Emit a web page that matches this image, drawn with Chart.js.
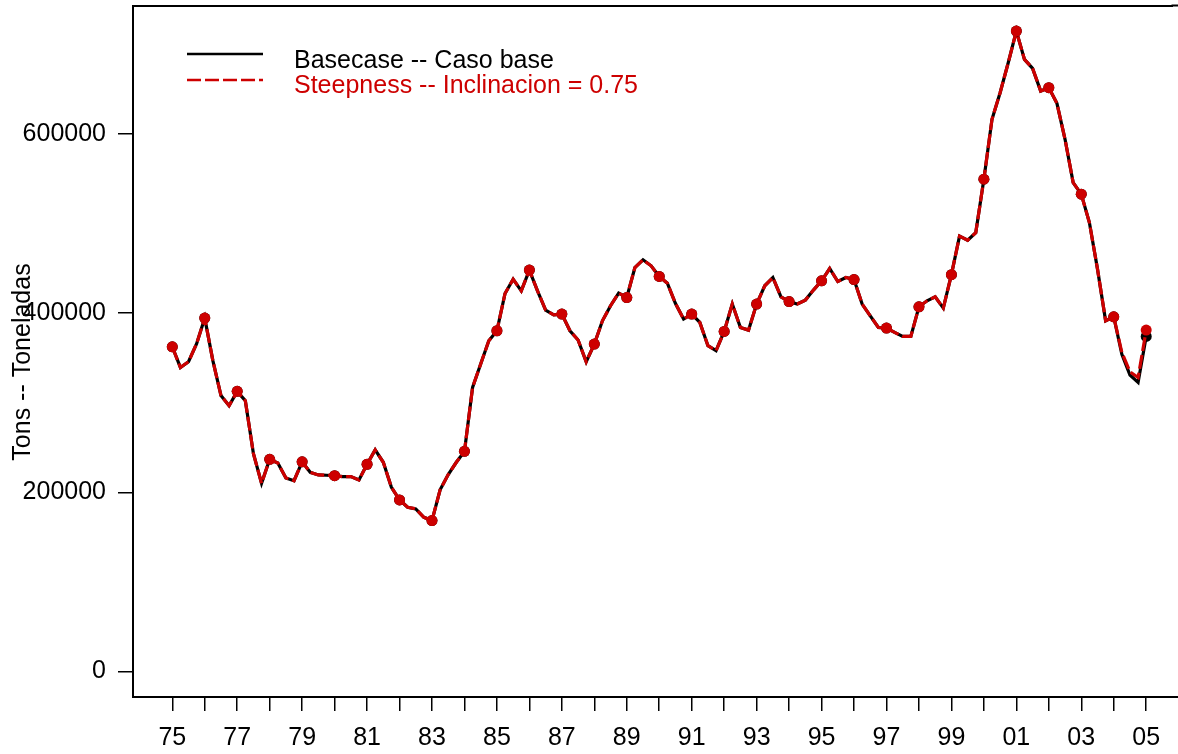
<!DOCTYPE html>
<html><head><meta charset="utf-8">
<script src="https://cdn.jsdelivr.net/npm/chart.js@4.4.0/dist/chart.umd.min.js"></script>
<style>html,body{margin:0;padding:0;background:#fff;overflow:hidden}canvas{display:block}</style>
</head><body>
<canvas id="c" width="1178" height="754"></canvas>
<script>
// Quarterly values, 1975.00 ... 2005.00
const basecase = [
  362500, 339400, 345800, 366000,
  394500, 347000, 308000, 296700,
  312700, 302300, 243000, 210000,
  236800, 232800, 216000, 213000,
  234000, 222300, 219400, 219000,
  218600, 217500, 217500, 213800,
  231300, 247300, 233500, 205600,
  191500, 183300, 181500, 172100,
  168400, 202700, 219800, 233500,
  245700, 317100, 343200, 369200,
  380400, 422000, 438000, 425000,
  448100, 425000, 403500, 398200,
  399000, 380400, 370000, 345800,
  365500, 391500, 408300, 422400,
  417500, 451000, 459600, 452900,
  441000, 433500, 410800, 393400,
  399000, 389700, 363700, 358100,
  379600, 410200, 384000, 381100,
  410200, 430600, 439800, 418300,
  413000, 410200, 414600, 425800,
  436100, 449900, 435400, 439800,
  437600, 410200, 397100, 384000,
  383400, 378500, 374000, 374000,
  407100, 413800, 418300, 405700,
  443000, 486000, 481500, 490000,
  549600, 616500, 646200, 679700,
  715000, 683400, 673400, 648100,
  651800, 634400, 594200, 545800,
  532900, 501200, 449200, 391500,
  396000, 354000, 331000, 322700,
  374000
];
const steepness = [
  362500, 339400, 345800, 366000,
  394500, 347000, 308000, 296700,
  312700, 302300, 243000, 210000,
  236800, 232800, 216000, 213000,
  234000, 222300, 219400, 219000,
  218600, 217500, 217500, 213800,
  231300, 247300, 233500, 205600,
  191500, 183300, 181500, 172100,
  168400, 202700, 219800, 233500,
  245700, 317100, 343200, 369200,
  380400, 422000, 438000, 425000,
  448100, 425000, 403500, 398200,
  399000, 380400, 370000, 345800,
  365500, 391500, 408300, 422400,
  417500, 451000, 459600, 452900,
  441000, 433500, 410800, 393400,
  399000, 389700, 363700, 358100,
  379600, 410200, 384000, 381100,
  410200, 430600, 439800, 418300,
  413000, 410200, 414600, 425800,
  436100, 449900, 435400, 439800,
  437600, 410200, 397100, 384000,
  383400, 378500, 374000, 374000,
  407100, 413800, 418300, 405700,
  443000, 486000, 481500, 490000,
  549600, 616500, 646200, 679700,
  715000, 683400, 673400, 648100,
  651800, 634400, 594200, 545800,
  532900, 501200, 449200, 391500,
  396000, 356200, 334600, 328200,
  381200
];
const yearTicks = [1975,1976,1977,1978,1979,1980,1981,1982,1983,1984,1985,1986,1987,1988,1989,1990,
                   1991,1992,1993,1994,1995,1996,1997,1998,1999,2000,2001,2002,2003,2004,2005];
const yearLabels = ['75','','77','','79','','81','','83','','85','','87','','89','',
                    '91','','93','','95','','97','','99','','01','','03','','05'];
const yTicks = [0, 200000, 400000, 600000];
const seriesNames = ['Basecase -- Caso base', 'Steepness -- Inclinacion = 0.75'];
const yTitle = 'Tons -- Toneladas';

const times = basecase.map((_, i) => 1975 + i / 4);
const FONT = '"Liberation Sans", Arial, Helvetica, sans-serif';
const RED = '#CD0000';
const DASH = [14, 4];
const X_MIN = 1973.79, X_MAX = 2005.81;

const overlayPlugin = {
  id: 'overlay',
  afterDraw(chart) {
    const ctx = chart.ctx;
    const a = chart.chartArea;
    // continue the box edges to the canvas edge
    ctx.save();
    ctx.strokeStyle = '#000';
    ctx.lineWidth = 2;
    ctx.beginPath();
    ctx.moveTo(a.right - 1, a.top); ctx.lineTo(chart.width, a.top);
    ctx.moveTo(a.right - 1, a.bottom); ctx.lineTo(chart.width, a.bottom);
    ctx.stroke();
    ctx.restore();
    ctx.save();
    ctx.translate(23, 362);
    ctx.rotate(-Math.PI / 2);
    ctx.font = '25px ' + FONT;
    ctx.fillStyle = '#000';
    ctx.textAlign = 'center';
    ctx.textBaseline = 'middle';
    ctx.fillText(yTitle, 0, 0);
    ctx.restore();
    ctx.save();
    ctx.lineWidth = 2.5;
    ctx.strokeStyle = '#000';
    ctx.beginPath(); ctx.moveTo(187, 54); ctx.lineTo(263, 54); ctx.stroke();
    ctx.strokeStyle = RED;
    ctx.setLineDash(DASH);
    ctx.beginPath(); ctx.moveTo(187, 80); ctx.lineTo(263, 80); ctx.stroke();
    ctx.setLineDash([]);
    ctx.font = '25px ' + FONT;
    ctx.textAlign = 'left';
    ctx.textBaseline = 'alphabetic';
    ctx.fillStyle = '#000';
    ctx.fillText(seriesNames[0], 294, 67.5);
    ctx.fillStyle = RED;
    ctx.fillText(seriesNames[1], 294, 92.5);
    ctx.restore();
  }
};

const dotRadius = c => (c.dataIndex % 4 === 0 ? 5.5 : 0);
const noPad = s => { s.paddingTop = 0; s.paddingBottom = 0; s.paddingLeft = 0; s.paddingRight = 0; };

new Chart(document.getElementById('c'), {
  type: 'line',
  data: {
    datasets: [
      {
        label: seriesNames[0],
        data: times.map((t, i) => ({ x: t, y: basecase[i] })),
        borderColor: '#000', borderWidth: 3.2, tension: 0,
        pointRadius: dotRadius, pointBackgroundColor: '#000', pointBorderWidth: 0,
        order: 2
      },
      {
        label: seriesNames[1],
        data: times.map((t, i) => ({ x: t, y: steepness[i] })),
        borderColor: RED, borderWidth: 3.2, borderDash: DASH, tension: 0,
        pointRadius: dotRadius, pointBackgroundColor: RED, pointBorderWidth: 0,
        order: 1
      }
    ]
  },
  options: {
    responsive: false, animation: false, devicePixelRatio: 1,
    layout: { padding: 0 },
    plugins: { legend: { display: false }, tooltip: { enabled: false } },
    scales: {
      x: {
        type: 'linear', position: 'bottom', min: X_MIN, max: X_MAX,
        afterBuildTicks: s => { s.ticks = yearTicks.map(v => ({ value: v })); },
        afterFit: s => { s.height = 57; noPad(s); },
        ticks: {
          autoSkip: false, maxRotation: 0, minRotation: 0, padding: 12, color: '#000',
          font: { family: FONT, size: 25 },
          callback: v => yearLabels[yearTicks.indexOf(v)] ?? ''
        },
        grid: { drawOnChartArea: false, drawTicks: true, tickLength: 14, color: '#000', lineWidth: 1.5 },
        border: { display: true, color: '#000', width: 2 }
      },
      x2: {
        type: 'linear', position: 'top', min: X_MIN, max: X_MAX,
        afterFit: s => { s.height = 4; noPad(s); },
        ticks: { display: false },
        grid: { display: false, drawTicks: false },
        border: { display: true, color: '#000', width: 2 }
      },
      y: {
        type: 'linear', min: -28600, max: 743600,
        afterBuildTicks: s => { s.ticks = yTicks.map(v => ({ value: v })); },
        afterFit: s => { s.width = 133; noPad(s); },
        ticks: {
          padding: 12, color: '#000', font: { family: FONT, size: 25 },
          callback: v => String(v)
        },
        grid: { drawOnChartArea: false, drawTicks: true, tickLength: 15, color: '#000', lineWidth: 1.5 },
        border: { display: true, color: '#000', width: 2 }
      }
    }
  },
  plugins: [overlayPlugin]
});
</script>
</body></html>
